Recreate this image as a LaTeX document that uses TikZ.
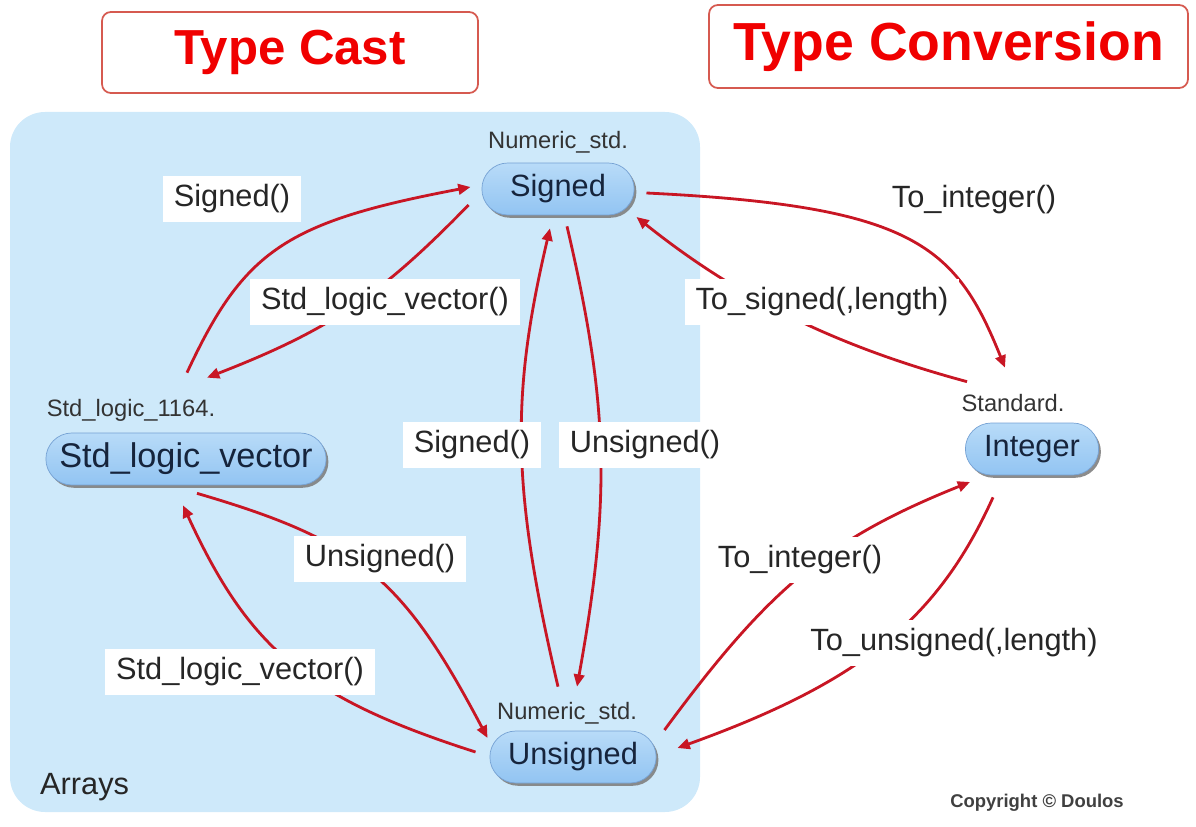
\documentclass[tikz,border=0pt]{standalone}
\usepackage{fontspec}
\setmainfont{Liberation Sans}
\usetikzlibrary{
  arrows.meta,
  shapes.misc,
  shadows
}
\definecolor{panelblue}{RGB}{206,233,250}
\definecolor{pilltop}{RGB}{184,219,248}
\definecolor{pillblue}{RGB}{146,196,242}
\definecolor{pilledge}{RGB}{118,162,212}
\definecolor{castred}{RGB}{200,22,36}
\definecolor{titlered}{RGB}{240,0,0}
\definecolor{titleframe}{RGB}{214,90,80}
\definecolor{inkblue}{RGB}{22,36,60}

\begin{document}
\begin{tikzpicture}[
  x=0.02cm, y=-0.02cm,
  title/.style={
    rectangle, rounded corners=5pt, draw=titleframe, line width=1pt,
    fill=white, text=titlered, font=\bfseries\fontsize{28}{32}\selectfont
  },
  typebox/.style={
    rounded rectangle, top color=pilltop, bottom color=pillblue,
    draw=pilledge, line width=0.4pt, text=inkblue, minimum height=1.04cm,
    font=\fontsize{17.5}{21}\selectfont,
    drop shadow={shadow xshift=1.3pt, shadow yshift=-1.6pt, fill=black!50, opacity=0.9}
  },
  lib/.style={font=\fontsize{13.5}{16}\selectfont, text=black!80},
  fn/.style={
    rectangle, fill=white, inner xsep=0.22cm, minimum height=0.92cm,
    font=\fontsize{17.5}{21}\selectfont, text=black!85
  },
  castarrow/.style={draw=castred, line width=1.6pt, -{Triangle[length=7pt,width=6pt]}},
]
\useasboundingbox (0,0) rectangle (1196,827);

% Arrays panel
\fill[panelblue, rounded corners=0.7cm] (10,112) rectangle (700,812);

% Headline boxes
\node[title, minimum width=7.52cm, minimum height=1.62cm] (tcast) at (290,52.5) {Type Cast};
\node[title, minimum width=9.58cm, minimum height=1.66cm,
  font=\bfseries\fontsize{30.5}{34}\selectfont] (tconv) at (948.5,46.5) {Type Conversion};

% Types
\node[typebox, minimum width=3.28cm] (sig) at (558,189) {Signed};
\node[typebox, minimum width=5.84cm, font=\fontsize{19.5}{23}\selectfont] (slv) at (186,459) {Std\_logic\_vector};
\node[typebox, minimum width=2.9cm] (int) at (1032,449) {Integer};
\node[typebox, minimum width=3.56cm] (uns) at (573,757) {Unsigned};

% Packages
\node[lib] (siglib) at (558,142) {Numeric\_std.};
\node[lib] (slvlib) at (131,410) {Std\_logic\_1164.};
\node[lib] (intlib) at (1013,403) {Standard.};
\node[lib] (unslib) at (567,713) {Numeric\_std.};

% Casts inside the arrays panel
\draw[castarrow] ([shift={(0.02cm,1.2cm)}]slv.north)
  .. controls (244,250) and (286,222) .. ([shift={(-0.22cm,0.04cm)}]sig.west);
\draw[castarrow] ([shift={(-0.26cm,-0.32cm)}]sig.west)
  .. controls (381,295) and (330,330) .. ([shift={(0.42cm,1.1cm)}]slv.north);
\draw[castarrow] ([shift={(0.18cm,-0.22cm)}]sig.south)
  .. controls (609,406) and (611,498) .. ([shift={(0.08cm,0.88cm)}]uns.north);
\draw[castarrow] ([shift={(-0.3cm,0.88cm)}]uns.north)
  .. controls (512,490) and (510,398) .. ([shift={(-0.16cm,-0.26cm)}]sig.south);
\draw[castarrow] ([shift={(0.22cm,-0.16cm)}]slv.south)
  .. controls (360,541) and (403,578) .. ([shift={(-0.04cm,0.38cm)}]uns.west);
\draw[castarrow] ([shift={(-0.28cm,0.1cm)}]uns.west)
  .. controls (307,698) and (249,649) .. ([shift={(-0.06cm,-0.4cm)}]slv.south);

% Conversions to and from integer
\draw[castarrow] ([shift={(0.24cm,-0.08cm)}]sig.east)
  .. controls (915,206) and (956,246) .. ([shift={(-0.54cm,1.1cm)}]int.north);
\draw[castarrow] ([shift={(-1.3cm,0.82cm)}]int.north)
  .. controls (831,345) and (734,295) .. ([shift={(0.04cm,-0.56cm)}]sig.east);
\draw[castarrow] ([shift={(0.16cm,0.54cm)}]uns.east)
  .. controls (769,588) and (828,539) .. ([shift={(0.1cm,-0.66cm)}]int.west);
\draw[castarrow] ([shift={(-0.78cm,-0.44cm)}]int.south)
  .. controls (938,619) and (861,682) .. ([shift={(0.42cm,0.18cm)}]uns.east);

% Function labels
\node[fn] (fsig) at (232,199) {Signed()};
\node[fn] (fslv) at (385,302) {Std\_logic\_vector()};
\node[fn] (fint) at (974,200) {To\_integer()};
\node[fn] (ftosig) at (822,302) {To\_signed(,length)};
\node[fn] (fsigup) at (472,445) {Signed()};
\node[fn] (funsdown) at (645,445) {Unsigned()};
\node[fn] (funs) at (380,559) {Unsigned()};
\node[fn] (fslvup) at (240,672) {Std\_logic\_vector()};
\node[fn] (fintup) at (800,560) {To\_integer()};
\node[fn] (ftouns) at (954,643) {To\_unsigned(,length)};

% Footer texts
\node[anchor=west, font=\fontsize{17.5}{21}\selectfont, text=black!85] (arrays) at (34,787) {Arrays};
\node[font=\bfseries\fontsize{10.5}{12}\selectfont, text=black!75] (copy) at (1037,803) {Copyright \textcopyright{} Doulos};

\end{tikzpicture}
\end{document}
